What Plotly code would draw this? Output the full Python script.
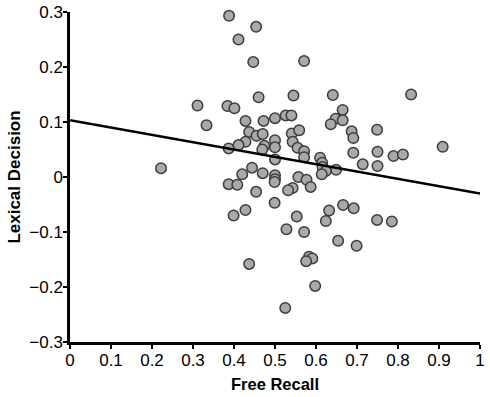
import plotly.graph_objects as go

free_recall = [0.222, 0.311, 0.333, 0.384, 0.401, 0.388, 0.411, 0.454, 0.447, 0.571,
               0.460, 0.545, 0.641, 0.832, 0.665, 0.648, 0.665, 0.636, 0.749, 0.687,
               0.691, 0.909, 0.691, 0.750, 0.789, 0.812, 0.714, 0.750, 0.649, 0.387,
               0.387, 0.408, 0.428, 0.472, 0.500, 0.526, 0.540, 0.437, 0.455, 0.470,
               0.541, 0.559, 0.428, 0.411, 0.500, 0.474, 0.469, 0.500, 0.543, 0.555,
               0.500, 0.444, 0.420, 0.470, 0.500, 0.500, 0.557, 0.571, 0.571, 0.610,
               0.615, 0.616, 0.624, 0.614, 0.577, 0.587, 0.543, 0.532, 0.454, 0.499,
               0.499, 0.428, 0.399, 0.553, 0.528, 0.437, 0.632, 0.624, 0.666, 0.692,
               0.749, 0.785, 0.571, 0.654, 0.699, 0.583, 0.591, 0.576, 0.598, 0.525]
lexical_decision = [0.016, 0.130, 0.094, 0.129, 0.125, 0.293, 0.250, 0.273, 0.209, 0.211,
                    0.145, 0.148, 0.149, 0.150, 0.122, 0.106, 0.103, 0.096, 0.086, 0.083,
                    0.071, 0.055, 0.044, 0.046, 0.038, 0.041, 0.023, 0.020, 0.013, 0.052,
                    -0.013, -0.014, 0.102, 0.102, 0.107, 0.112, 0.112, 0.082, 0.075, 0.078,
                    0.079, 0.085, 0.064, 0.058, 0.067, 0.057, 0.050, 0.054, 0.064, 0.053,
                    0.032, 0.017, 0.005, 0.007, 0.003, -0.004, 0.000, 0.047, 0.036, 0.035,
                    0.026, 0.018, 0.011, 0.005, -0.005, -0.018, -0.020, -0.024, -0.027, -0.009,
                    -0.047, -0.060, -0.070, -0.072, -0.095, -0.158, -0.061, -0.080, -0.051, -0.057,
                    -0.078, -0.081, -0.100, -0.116, -0.125, -0.145, -0.148, -0.153, -0.198, -0.238]
fit_x = [0, 1]
fit_y = [0.103, -0.030]

x_ticks = [0, 0.1, 0.2, 0.3, 0.4, 0.5, 0.6, 0.7, 0.8, 0.9, 1]
x_tick_labels = ["0", "0.1", "0.2", "0.3", "0.4", "0.5", "0.6", "0.7", "0.8", "0.9", "1"]
y_ticks = [-0.3, -0.2, -0.1, 0, 0.1, 0.2, 0.3]
y_tick_labels = ["\u22120.3", "\u22120.2", "\u22120.1", "0", "0.1", "0.2", "0.3"]

FONT = "Liberation Sans, Arial, Helvetica, sans-serif"

fig = go.Figure()
fig.add_trace(go.Scatter(
    x=free_recall, y=lexical_decision, mode="markers",
    marker=dict(size=10.5, color="#a9a9a9", line=dict(color="#3c3c3c", width=1.5)),
    showlegend=False, cliponaxis=False))
fig.add_trace(go.Scatter(
    x=fit_x, y=fit_y, mode="lines",
    line=dict(color="black", width=2.5), showlegend=False))

axis_common = dict(showline=True, linecolor="black", linewidth=2.5, ticks="outside",
                   ticklen=4, tickwidth=2, tickcolor="black", showgrid=False,
                   zeroline=False, automargin=False, ticklabelstandoff=-3,
                   tickfont=dict(family=FONT, size=17, color="black"))

fig.update_layout(
    width=490, height=397,
    margin=dict(l=70, r=10, t=12, b=55),
    plot_bgcolor="white", paper_bgcolor="white",
    xaxis=dict(range=[0, 1], tickvals=x_ticks, ticktext=x_tick_labels,
               title=dict(text="<b>Free Recall</b>", standoff=10,
                          font=dict(family=FONT, size=16.5, color="black")),
               **axis_common),
    yaxis=dict(range=[-0.3, 0.3], tickvals=y_ticks, ticktext=y_tick_labels,
               title=dict(text="<b>Lexical Decision</b>", standoff=5,
                          font=dict(family=FONT, size=17, color="black")),
               **axis_common),
)

# remove the browser's default 8 px body margin so the figure fills the window exactly
fig.write_html("out.html", config={"displayModeBar": False},
               post_script="document.body.style.margin='0px';document.body.style.overflow='hidden';")
